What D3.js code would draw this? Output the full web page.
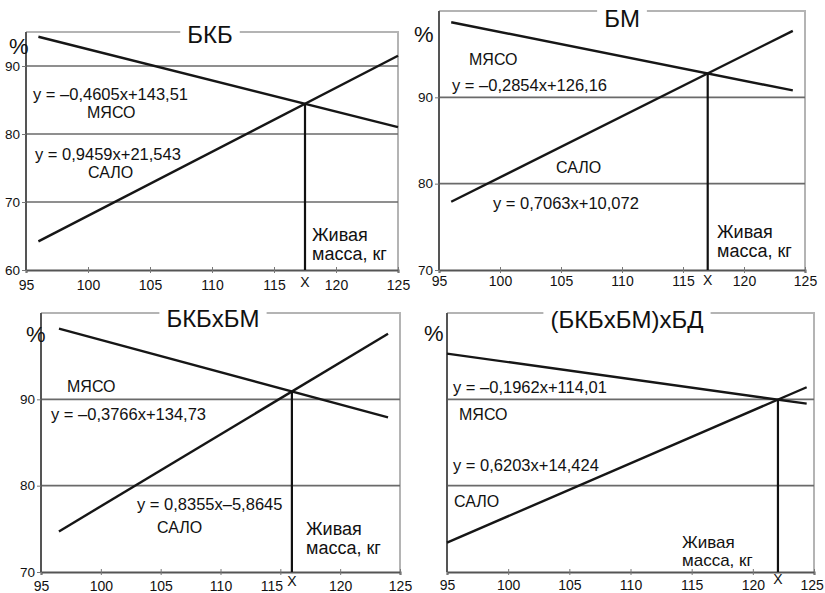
<!DOCTYPE html>
<html><head><meta charset="utf-8">
<script src="https://cdn.jsdelivr.net/npm/d3@7"></script>
<style>body{margin:0;background:#fff}svg{display:block}text{font-family:"Liberation Sans",Arial,sans-serif;fill:#111}</style>
</head><body>
<svg id="c" width="825" height="593"></svg>
<script>
// ---- data ----
const titles = ["БКБ", "БМ", "БКБxБМ", "(БКБxБМ)xБД"];
const xTicks = [95, 100, 105, 110, 115, 120, 125];
const yDomains = [[60, 95], [70, 100], [70, 100], [70, 100]];
const yTickLabels = [[60, 70, 80, 90], [70, 80, 90], [70, 80, 90], []];
const gridValues = [[70, 80, 90], [80, 90], [80, 90], [80, 90]];
// endpoints [live weight, %] of each trend line
const meatBKB = [[96, 94.3], [125, 81.0]];
const fatBKB = [[96, 64.2], [125, 91.5]];
const meatBM = [[96, 98.7], [124, 90.8]];
const fatBM = [[96, 77.9], [124, 97.7]];
const meatBKBxBM = [[96.5, 98.2], [124, 87.9]];
const fatBKBxBM = [[96.5, 74.7], [124, 97.6]];
const meatCross = [[95, 95.3], [124.4, 89.5]];
const fatCross = [[95, 73.4], [124.4, 91.4]];
const meatSeries = [meatBKB, meatBM, meatBKBxBM, meatCross];
const fatSeries = [fatBKB, fatBM, fatBKBxBM, fatCross];
const meatEq = ["y = –0,4605x+143,51", "y = –0,2854x+126,16", "y = –0,3766x+134,73", "y = –0,1962x+114,01"];
const fatEq = ["y = 0,9459x+21,543", "y = 0,7063x+10,072", "y = 0,8355x–5,8645", "y = 0,6203x+14,424"];
const meatLabel = "МЯСО", fatLabel = "САЛО";
const axisLabel1 = "Живая", axisLabel2 = "масса, кг", yUnit = "%", xMark = "X";

// ---- layout (page pixels) ----
const layout = [
  {x0: 26, x1: 398, yb: 270, yt: 32, title: [210, 43], pct: [9, 54], tickDy: 18, liveFs: 18,
   meatEq: [33, 100], meat: [87, 118], fatEq: [35, 160], fat: [88, 178], live: [312, 241, 260], mark: 287},
  {x0: 439, x1: 805, yb: 270, yt: 11, title: [622, 27], pct: [414, 42], tickDy: 14, liveFs: 18,
   meatEq: [452, 91], meat: [469, 65], fatEq: [493, 209], fat: [556, 173], live: [717, 238, 257], mark: 285},
  {x0: 41, x1: 400, yb: 572, yt: 313, title: [213, 327], pct: [26, 342], tickDy: 17, liveFs: 18,
   meatEq: [51, 420], meat: [67, 392], fatEq: [137, 510], fat: [157, 533], live: [306, 535, 554], mark: 586},
  {x0: 447, x1: 814, yb: 572, yt: 313, title: [627, 328], pct: [424, 341], tickDy: 16, liveFs: 17,
   meatEq: [453, 393], meat: [459, 420], fatEq: [453, 471], fat: [454, 507], live: [682, 548, 566], mark: 584}
];

const svg = d3.select("#c");
const FONT = '"Liberation Sans",Arial,sans-serif';

function intersect(a, b) {
  const ma = (a[1][1] - a[0][1]) / (a[1][0] - a[0][0]);
  const mb = (b[1][1] - b[0][1]) / (b[1][0] - b[0][0]);
  const ca = a[0][1] - ma * a[0][0], cb = b[0][1] - mb * b[0][0];
  const x = (cb - ca) / (ma - mb);
  return [x, ma * x + ca];
}

layout.forEach((L, i) => {
  const g = svg.append("g");
  const x = d3.scaleLinear().domain([95, 125]).range([L.x0, L.x1]);
  const y = d3.scaleLinear().domain(yDomains[i]).range([L.yb, L.yt]);
  const p = intersect(meatSeries[i], fatSeries[i]);
  const px = x(p[0]);

  // frame (top + right)
  g.append("path")
    .attr("d", `M${L.x0},${L.yt}H${L.x1}V${L.yb}`)
    .attr("fill", "none").attr("stroke", "#b4b4b4").attr("stroke-width", 2);

  // gridlines
  g.selectAll(".grid").data(gridValues[i]).join("line")
    .attr("x1", L.x0).attr("x2", L.x1)
    .attr("y1", d => y(d)).attr("y2", d => y(d))
    .attr("stroke", "#6a6a6a").attr("stroke-width", 1.6);

  // axes
  const xAxis = d3.axisBottom(x).tickValues(xTicks).tickSize(3).tickPadding(L.tickDy - 11);
  const ax = g.append("g").attr("transform", `translate(0,${L.yb})`).call(xAxis);
  ax.select(".domain").attr("stroke", "#555").attr("stroke-width", 2);
  ax.selectAll(".tick line").attr("stroke", "#777").attr("y1", -3);
  ax.selectAll(".tick text").attr("font-size", 14).attr("font-family", FONT).attr("fill", "#111")
    .attr("dx", d => {
      const dpx = x(d) - px;
      return Math.abs(dpx) < 15 ? (dpx < 0 ? -9 : 9) : 0;   // make room for the X mark
    })
    .each(function () {
      const b = this.getBBox();
      const gx = b.x + b.width;
      const tx = +this.parentNode.getAttribute("transform").match(/translate\(([-\d.]+)/)[1];
      if (tx + gx > 824) d3.select(this).attr("dx", 824 - (tx + gx));
    });

  const yAxis = d3.axisLeft(y).tickValues(yTickLabels[i]).tickSize(4).tickPadding(2);
  const ay = g.append("g").attr("transform", `translate(${L.x0},0)`).call(yAxis);
  ay.select(".domain").attr("stroke", "#555").attr("stroke-width", 2).attr("d", `M0,${L.yb}V${L.yt}`);
  ay.selectAll(".tick line").attr("stroke", "#777");
  ay.selectAll(".tick text").attr("font-size", 13.5).attr("font-family", FONT).attr("fill", "#111");

  // trend lines
  const line = d3.line().x(d => x(d[0])).y(d => y(d[1]));
  [meatSeries[i], fatSeries[i]].forEach(s => {
    g.append("path").attr("d", line(s)).attr("fill", "none")
      .attr("stroke", "#161616").attr("stroke-width", 2.4);
  });

  // intersection drop line
  g.append("line").attr("x1", px).attr("x2", px)
    .attr("y1", y(p[1])).attr("y2", L.yb)
    .attr("stroke", "#111").attr("stroke-width", 2.2);
  g.append("text").attr("x", px).attr("y", L.mark).attr("text-anchor", "middle")
    .attr("font-size", 14).text(xMark);

  // title with white backing over the frame line
  const t = g.append("text").attr("x", L.title[0]).attr("y", L.title[1])
    .attr("text-anchor", "middle").attr("font-size", 24).text(titles[i]);
  const bb = t.node().getBBox();
  g.append("rect").attr("x", bb.x - 7).attr("y", L.yt - 3)
    .attr("width", bb.width + 14).attr("height", 6).attr("fill", "#fff");
  t.raise();

  g.append("text").attr("x", L.pct[0]).attr("y", L.pct[1]).attr("font-size", 22).text(yUnit);

  const txt = (pos, s, fs) => g.append("text").attr("x", pos[0]).attr("y", pos[1]).attr("font-size", fs).text(s);
  txt(L.meatEq, meatEq[i], 16.5);
  txt(L.meat, meatLabel, 16);
  txt(L.fatEq, fatEq[i], 16.5);
  txt(L.fat, fatLabel, 16);
  txt([L.live[0], L.live[1]], axisLabel1, L.liveFs);
  txt([L.live[0], L.live[2]], axisLabel2, L.liveFs);
});
</script>
</body></html>
